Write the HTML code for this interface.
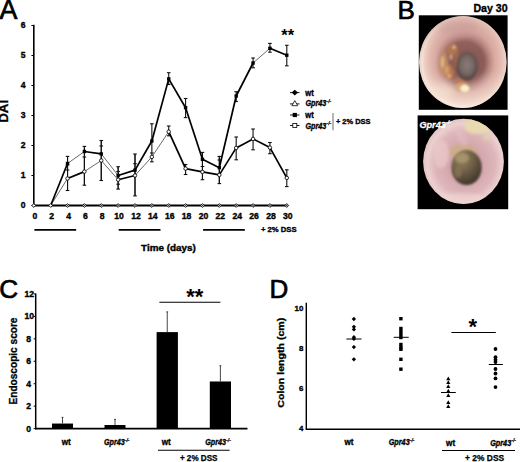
<!DOCTYPE html>
<html><head><meta charset="utf-8"><style>
html,body{margin:0;padding:0;background:#fff;width:520px;height:462px;overflow:hidden}
svg{display:block}
</style></head><body>
<svg width="520" height="462" viewBox="0 0 520 462">
<rect width="520" height="462" fill="#fff"/>
<defs>
 <radialGradient id="g1" cx="465" cy="62" r="45" gradientUnits="userSpaceOnUse" gradientTransform="translate(465 62) scale(0.974 1.022) translate(-465 -62)">
  <stop offset="0" stop-color="#7e524e"/>
  <stop offset="0.44" stop-color="#8c5c58"/>
  <stop offset="0.57" stop-color="#bc8a84"/>
  <stop offset="0.68" stop-color="#d8aaa2"/>
  <stop offset="0.82" stop-color="#e4bcb2"/>
  <stop offset="0.93" stop-color="#eed0c6"/>
  <stop offset="0.985" stop-color="#f6e4da"/>
  <stop offset="1" stop-color="#eed8ce"/>
 </radialGradient>
 <linearGradient id="ov1" x1="0" y1="0" x2="0" y2="1">
  <stop offset="0" stop-color="#c08880" stop-opacity="0.35"/>
  <stop offset="0.45" stop-color="#c08880" stop-opacity="0"/>
  <stop offset="0.6" stop-color="#fff4e6" stop-opacity="0"/>
  <stop offset="1" stop-color="#fff4e6" stop-opacity="0.45"/>
 </linearGradient>
 <radialGradient id="g2" cx="465" cy="163" r="42" gradientUnits="userSpaceOnUse" gradientTransform="translate(465 163) scale(0.962 1.015) translate(-465 -163)">
  <stop offset="0" stop-color="#c49aa0"/>
  <stop offset="0.45" stop-color="#d4a8ae"/>
  <stop offset="0.75" stop-color="#deb6ba"/>
  <stop offset="0.93" stop-color="#ecd0d0"/>
  <stop offset="1" stop-color="#e6c8c6"/>
 </radialGradient>
 <radialGradient id="lum1" cx="0.5" cy="0.45" r="0.55">
  <stop offset="0" stop-color="#8a7c78"/>
  <stop offset="0.6" stop-color="#746662"/>
  <stop offset="1" stop-color="#503c3a"/>
 </radialGradient>
 <radialGradient id="lum2" cx="0.35" cy="0.25" r="0.8">
  <stop offset="0" stop-color="#9c8a68"/>
  <stop offset="0.35" stop-color="#7a6a4e"/>
  <stop offset="0.7" stop-color="#5a4c3a"/>
  <stop offset="1" stop-color="#3c3228"/>
 </radialGradient>
 <filter id="bl3" x="-50%" y="-50%" width="200%" height="200%"><feGaussianBlur stdDeviation="3"/></filter>
 <filter id="bl" x="-50%" y="-50%" width="200%" height="200%"><feGaussianBlur stdDeviation="1.5"/></filter>
 <filter id="bl1" x="-50%" y="-50%" width="200%" height="200%"><feGaussianBlur stdDeviation="0.8"/></filter>
 <clipPath id="c1"><ellipse cx="462.85" cy="62.05" rx="43.85" ry="46.05"/></clipPath>
 <clipPath id="c2"><ellipse cx="463.5" cy="161.45" rx="40.4" ry="42.65"/></clipPath>
</defs>
<rect x="418.8" y="15.3" width="88.8" height="94.5" fill="#000"/>
<ellipse cx="462.85" cy="62.05" rx="43.85" ry="46.05" fill="url(#g1)"/>
<ellipse cx="462.85" cy="62.05" rx="43.85" ry="46.05" fill="url(#ov1)"/>
<g clip-path="url(#c1)">
<g filter="url(#bl3)">
 <ellipse cx="458" cy="28" rx="20" ry="8" fill="#c89c9a" opacity="0.5"/>
 <ellipse cx="440" cy="92" rx="14" ry="8" fill="#f4e2d0" opacity="0.6"/>
 
</g>
<g filter="url(#bl)">
 <ellipse cx="444" cy="64" rx="4.5" ry="12" fill="#c89060" opacity="0.85"/>
 <ellipse cx="450" cy="72" rx="4" ry="7" fill="#c08050" opacity="0.85"/>
 <ellipse cx="452" cy="50" rx="6" ry="5" fill="#b87c52" opacity="0.8"/>
 <ellipse cx="456.5" cy="60" rx="3" ry="8" fill="#a86c50" opacity="0.7"/>
 <ellipse cx="460" cy="81" rx="7" ry="3" fill="#c07c58" opacity="0.7"/>
</g>
<g filter="url(#bl1)">
 <ellipse cx="442.5" cy="62" rx="1.8" ry="6" fill="#e8c090" opacity="0.75"/>
 <ellipse cx="447" cy="70" rx="1.6" ry="4" fill="#e0b080" opacity="0.7"/>
 <ellipse cx="451" cy="57" rx="1.5" ry="3" fill="#e8c498" opacity="0.7"/>
 <ellipse cx="454" cy="47" rx="2" ry="2" fill="#e6c08c" opacity="0.8"/>
 <ellipse cx="449" cy="76" rx="2" ry="2.5" fill="#e8b070" opacity="0.8"/>
 <ellipse cx="453.5" cy="66" rx="1.5" ry="4" fill="#8c5a44" opacity="0.6"/>
</g>
<g filter="url(#bl1)">
 <ellipse cx="467" cy="66.5" rx="10.5" ry="14" fill="url(#lum1)"/>
 <ellipse cx="462" cy="87" rx="7" ry="4.5" fill="#dca872" opacity="0.8"/>
 <ellipse cx="464.8" cy="88.5" rx="4.6" ry="3.7" fill="#faf0c8"/>
</g>
</g>
<rect x="417.6" y="115.4" width="90.6" height="93.8" fill="#000"/>
<ellipse cx="463.5" cy="161.45" rx="40.4" ry="42.65" fill="url(#g2)"/>
<g clip-path="url(#c2)">
<g filter="url(#bl)">
 <ellipse cx="477" cy="126" rx="13" ry="8" fill="#e8dab0" opacity="0.95"/>
 <ellipse cx="487" cy="137" rx="4" ry="4" fill="#e0d0b0" opacity="0.8"/>
 <ellipse cx="441" cy="154" rx="8" ry="14" fill="#eccaca" opacity="0.7"/>
 <ellipse cx="460" cy="199" rx="26" ry="6" fill="#f0d6d4" opacity="0.6"/>
 <ellipse cx="462" cy="138" rx="4" ry="12" fill="#e6c0c4" opacity="0.5" transform="rotate(-25 462 138)"/>
 <ellipse cx="463" cy="152" rx="14" ry="7" fill="#ccae84" opacity="0.85"/>
</g>
<g filter="url(#bl1)">
 <ellipse cx="466.5" cy="167.5" rx="15.2" ry="17.6" fill="url(#lum2)"/>
</g>
<g filter="url(#bl1)" opacity="0.7">
 <ellipse cx="462" cy="158" rx="7" ry="5" fill="#b09a70"/>
 <ellipse cx="458" cy="172" rx="4" ry="6" fill="#8a7452"/>
</g>
</g>

<text x="-0.40" y="18.60" font-size="26.8" font-family="Liberation Sans, sans-serif" fill="#000" stroke="#000" stroke-width="0.7" >A</text>
<line x1="33.8" y1="24.8" x2="33.8" y2="206.3" stroke="#000" stroke-width="1.6"/>
<line x1="31.4" y1="205.50" x2="33.8" y2="205.50" stroke="#000" stroke-width="1"/>
<text x="25.60" y="208.10" font-size="8.6" font-family="Liberation Sans, sans-serif" fill="#000" font-weight="bold" text-anchor="end" stroke="#000" stroke-width="0.36" >0</text>
<line x1="31.4" y1="175.50" x2="33.8" y2="175.50" stroke="#000" stroke-width="1"/>
<text x="25.60" y="178.10" font-size="8.6" font-family="Liberation Sans, sans-serif" fill="#000" font-weight="bold" text-anchor="end" stroke="#000" stroke-width="0.36" >1</text>
<line x1="31.4" y1="145.50" x2="33.8" y2="145.50" stroke="#000" stroke-width="1"/>
<text x="25.60" y="148.10" font-size="8.6" font-family="Liberation Sans, sans-serif" fill="#000" font-weight="bold" text-anchor="end" stroke="#000" stroke-width="0.36" >2</text>
<line x1="31.4" y1="115.50" x2="33.8" y2="115.50" stroke="#000" stroke-width="1"/>
<text x="25.60" y="118.10" font-size="8.6" font-family="Liberation Sans, sans-serif" fill="#000" font-weight="bold" text-anchor="end" stroke="#000" stroke-width="0.36" >3</text>
<line x1="31.4" y1="85.50" x2="33.8" y2="85.50" stroke="#000" stroke-width="1"/>
<text x="25.60" y="88.10" font-size="8.6" font-family="Liberation Sans, sans-serif" fill="#000" font-weight="bold" text-anchor="end" stroke="#000" stroke-width="0.36" >4</text>
<line x1="31.4" y1="55.50" x2="33.8" y2="55.50" stroke="#000" stroke-width="1"/>
<text x="25.60" y="58.10" font-size="8.6" font-family="Liberation Sans, sans-serif" fill="#000" font-weight="bold" text-anchor="end" stroke="#000" stroke-width="0.36" >5</text>
<line x1="31.4" y1="25.50" x2="33.8" y2="25.50" stroke="#000" stroke-width="1"/>
<text x="25.60" y="28.10" font-size="8.6" font-family="Liberation Sans, sans-serif" fill="#000" font-weight="bold" text-anchor="end" stroke="#000" stroke-width="0.36" >6</text>
<text transform="translate(8.2,111.3) rotate(-90)" font-size="13.4" font-weight="bold" text-anchor="middle" stroke="#000" stroke-width="0.3" font-family="Liberation Sans, sans-serif">DAI</text>
<line x1="33" y1="205.5" x2="287.79" y2="205.5" stroke="#000" stroke-width="1.8"/>
<text x="34.80" y="219.00" font-size="8.6" font-family="Liberation Sans, sans-serif" fill="#000" font-weight="bold" text-anchor="middle" stroke="#000" stroke-width="0.36" >0</text>
<text x="51.67" y="219.00" font-size="8.6" font-family="Liberation Sans, sans-serif" fill="#000" font-weight="bold" text-anchor="middle" stroke="#000" stroke-width="0.36" >2</text>
<text x="68.53" y="219.00" font-size="8.6" font-family="Liberation Sans, sans-serif" fill="#000" font-weight="bold" text-anchor="middle" stroke="#000" stroke-width="0.36" >4</text>
<text x="85.40" y="219.00" font-size="8.6" font-family="Liberation Sans, sans-serif" fill="#000" font-weight="bold" text-anchor="middle" stroke="#000" stroke-width="0.36" >6</text>
<text x="102.26" y="219.00" font-size="8.6" font-family="Liberation Sans, sans-serif" fill="#000" font-weight="bold" text-anchor="middle" stroke="#000" stroke-width="0.36" >8</text>
<text x="119.13" y="219.00" font-size="8.6" font-family="Liberation Sans, sans-serif" fill="#000" font-weight="bold" text-anchor="middle" stroke="#000" stroke-width="0.36" >10</text>
<text x="136.00" y="219.00" font-size="8.6" font-family="Liberation Sans, sans-serif" fill="#000" font-weight="bold" text-anchor="middle" stroke="#000" stroke-width="0.36" >12</text>
<text x="152.86" y="219.00" font-size="8.6" font-family="Liberation Sans, sans-serif" fill="#000" font-weight="bold" text-anchor="middle" stroke="#000" stroke-width="0.36" >14</text>
<text x="169.73" y="219.00" font-size="8.6" font-family="Liberation Sans, sans-serif" fill="#000" font-weight="bold" text-anchor="middle" stroke="#000" stroke-width="0.36" >16</text>
<text x="186.59" y="219.00" font-size="8.6" font-family="Liberation Sans, sans-serif" fill="#000" font-weight="bold" text-anchor="middle" stroke="#000" stroke-width="0.36" >18</text>
<text x="203.46" y="219.00" font-size="8.6" font-family="Liberation Sans, sans-serif" fill="#000" font-weight="bold" text-anchor="middle" stroke="#000" stroke-width="0.36" >20</text>
<text x="220.33" y="219.00" font-size="8.6" font-family="Liberation Sans, sans-serif" fill="#000" font-weight="bold" text-anchor="middle" stroke="#000" stroke-width="0.36" >22</text>
<text x="237.19" y="219.00" font-size="8.6" font-family="Liberation Sans, sans-serif" fill="#000" font-weight="bold" text-anchor="middle" stroke="#000" stroke-width="0.36" >24</text>
<text x="254.06" y="219.00" font-size="8.6" font-family="Liberation Sans, sans-serif" fill="#000" font-weight="bold" text-anchor="middle" stroke="#000" stroke-width="0.36" >26</text>
<text x="270.92" y="219.00" font-size="8.6" font-family="Liberation Sans, sans-serif" fill="#000" font-weight="bold" text-anchor="middle" stroke="#000" stroke-width="0.36" >28</text>
<text x="287.79" y="219.00" font-size="8.6" font-family="Liberation Sans, sans-serif" fill="#000" font-weight="bold" text-anchor="middle" stroke="#000" stroke-width="0.36" >30</text>
<line x1="34.40" y1="229.9" x2="76.17" y2="229.9" stroke="#000" stroke-width="1.7"/>
<line x1="118.73" y1="229.9" x2="160.50" y2="229.9" stroke="#000" stroke-width="1.7"/>
<line x1="203.06" y1="229.9" x2="244.82" y2="229.9" stroke="#000" stroke-width="1.7"/>
<text x="260.90" y="232.30" font-size="7.7" font-family="Liberation Sans, sans-serif" fill="#000" font-weight="bold" stroke="#000" stroke-width="0.36" >+ 2% DSS</text>
<text x="168.40" y="250.60" font-size="9.9" font-family="Liberation Sans, sans-serif" fill="#000" font-weight="bold" text-anchor="middle" stroke="#000" stroke-width="0.4" >Time (days)</text>
<text x="281.30" y="41.30" font-size="16.5" font-family="Liberation Sans, sans-serif" fill="#000" font-weight="bold" >**</text>
<line x1="67.53" y1="156.4" x2="67.53" y2="190.5" stroke="#111" stroke-width="1.1"/>
<line x1="67.53" y1="156.4" x2="67.53" y2="190.5" stroke="#111" stroke-width="1.1"/>
<line x1="65.73" y1="156.4" x2="69.33" y2="156.4" stroke="#111" stroke-width="1.1"/>
<line x1="65.73" y1="170" x2="69.33" y2="170" stroke="#111" stroke-width="1.1"/>
<line x1="65.73" y1="165" x2="69.33" y2="165" stroke="#111" stroke-width="1.1"/>
<line x1="65.73" y1="190.5" x2="69.33" y2="190.5" stroke="#111" stroke-width="1.1"/>
<line x1="84.40" y1="146.4" x2="84.40" y2="185.2" stroke="#111" stroke-width="1.1"/>
<line x1="84.40" y1="146.4" x2="84.40" y2="185.2" stroke="#111" stroke-width="1.1"/>
<line x1="82.60" y1="146.4" x2="86.20" y2="146.4" stroke="#111" stroke-width="1.1"/>
<line x1="82.60" y1="157" x2="86.20" y2="157" stroke="#111" stroke-width="1.1"/>
<line x1="82.60" y1="185.2" x2="86.20" y2="185.2" stroke="#111" stroke-width="1.1"/>
<line x1="101.26" y1="140.5" x2="101.26" y2="180.5" stroke="#111" stroke-width="1.1"/>
<line x1="101.26" y1="140.5" x2="101.26" y2="180.5" stroke="#111" stroke-width="1.1"/>
<line x1="99.46" y1="140.5" x2="103.06" y2="140.5" stroke="#111" stroke-width="1.1"/>
<line x1="99.46" y1="146" x2="103.06" y2="146" stroke="#111" stroke-width="1.1"/>
<line x1="99.46" y1="180.5" x2="103.06" y2="180.5" stroke="#111" stroke-width="1.1"/>
<line x1="118.13" y1="166.7" x2="118.13" y2="189.1" stroke="#111" stroke-width="1.1"/>
<line x1="118.13" y1="166.7" x2="118.13" y2="189.1" stroke="#111" stroke-width="1.1"/>
<line x1="116.33" y1="166.7" x2="119.93" y2="166.7" stroke="#111" stroke-width="1.1"/>
<line x1="116.33" y1="171.5" x2="119.93" y2="171.5" stroke="#111" stroke-width="1.1"/>
<line x1="116.33" y1="184.2" x2="119.93" y2="184.2" stroke="#111" stroke-width="1.1"/>
<line x1="116.33" y1="189.1" x2="119.93" y2="189.1" stroke="#111" stroke-width="1.1"/>
<line x1="135.00" y1="154.0" x2="135.00" y2="195.9" stroke="#111" stroke-width="1.1"/>
<line x1="135.00" y1="154.0" x2="135.00" y2="195.9" stroke="#111" stroke-width="1.1"/>
<line x1="133.20" y1="154.0" x2="136.80" y2="154.0" stroke="#111" stroke-width="1.1"/>
<line x1="133.20" y1="163.7" x2="136.80" y2="163.7" stroke="#111" stroke-width="1.1"/>
<line x1="133.20" y1="195.9" x2="136.80" y2="195.9" stroke="#111" stroke-width="1.1"/>
<line x1="151.86" y1="123.8" x2="151.86" y2="153" stroke="#111" stroke-width="1.1"/>
<line x1="151.86" y1="153" x2="151.86" y2="161.8" stroke="#111" stroke-width="1.1"/>
<line x1="150.06" y1="123.8" x2="153.66" y2="123.8" stroke="#111" stroke-width="1.1"/>
<line x1="150.06" y1="153" x2="153.66" y2="153" stroke="#111" stroke-width="1.1"/>
<line x1="150.06" y1="161.8" x2="153.66" y2="161.8" stroke="#111" stroke-width="1.1"/>
<line x1="168.73" y1="72.7" x2="168.73" y2="84.5" stroke="#111" stroke-width="1.1"/>
<line x1="168.73" y1="126" x2="168.73" y2="135.8" stroke="#111" stroke-width="1.1"/>
<line x1="166.93" y1="72.7" x2="170.53" y2="72.7" stroke="#111" stroke-width="1.1"/>
<line x1="166.93" y1="84.5" x2="170.53" y2="84.5" stroke="#111" stroke-width="1.1"/>
<line x1="166.93" y1="126" x2="170.53" y2="126" stroke="#111" stroke-width="1.1"/>
<line x1="166.93" y1="135.8" x2="170.53" y2="135.8" stroke="#111" stroke-width="1.1"/>
<line x1="185.59" y1="98.5" x2="185.59" y2="117.6" stroke="#111" stroke-width="1.1"/>
<line x1="185.59" y1="164.5" x2="185.59" y2="174.5" stroke="#111" stroke-width="1.1"/>
<line x1="183.79" y1="98.5" x2="187.39" y2="98.5" stroke="#111" stroke-width="1.1"/>
<line x1="183.79" y1="117.6" x2="187.39" y2="117.6" stroke="#111" stroke-width="1.1"/>
<line x1="183.79" y1="164.5" x2="187.39" y2="164.5" stroke="#111" stroke-width="1.1"/>
<line x1="183.79" y1="174.5" x2="187.39" y2="174.5" stroke="#111" stroke-width="1.1"/>
<line x1="202.46" y1="152.4" x2="202.46" y2="179.7" stroke="#111" stroke-width="1.1"/>
<line x1="202.46" y1="152.4" x2="202.46" y2="179.7" stroke="#111" stroke-width="1.1"/>
<line x1="200.66" y1="152.4" x2="204.26" y2="152.4" stroke="#111" stroke-width="1.1"/>
<line x1="200.66" y1="166.5" x2="204.26" y2="166.5" stroke="#111" stroke-width="1.1"/>
<line x1="200.66" y1="179.7" x2="204.26" y2="179.7" stroke="#111" stroke-width="1.1"/>
<line x1="219.33" y1="156.4" x2="219.33" y2="183.6" stroke="#111" stroke-width="1.1"/>
<line x1="219.33" y1="156.4" x2="219.33" y2="183.6" stroke="#111" stroke-width="1.1"/>
<line x1="217.53" y1="156.4" x2="221.13" y2="156.4" stroke="#111" stroke-width="1.1"/>
<line x1="217.53" y1="160" x2="221.13" y2="160" stroke="#111" stroke-width="1.1"/>
<line x1="217.53" y1="183.6" x2="221.13" y2="183.6" stroke="#111" stroke-width="1.1"/>
<line x1="236.19" y1="91.7" x2="236.19" y2="101.5" stroke="#111" stroke-width="1.1"/>
<line x1="236.19" y1="137" x2="236.19" y2="159.8" stroke="#111" stroke-width="1.1"/>
<line x1="234.39" y1="91.7" x2="237.99" y2="91.7" stroke="#111" stroke-width="1.1"/>
<line x1="234.39" y1="101.5" x2="237.99" y2="101.5" stroke="#111" stroke-width="1.1"/>
<line x1="234.39" y1="137" x2="237.99" y2="137" stroke="#111" stroke-width="1.1"/>
<line x1="234.39" y1="159.8" x2="237.99" y2="159.8" stroke="#111" stroke-width="1.1"/>
<line x1="253.06" y1="58.0" x2="253.06" y2="67.8" stroke="#111" stroke-width="1.1"/>
<line x1="253.06" y1="129" x2="253.06" y2="149.8" stroke="#111" stroke-width="1.1"/>
<line x1="251.26" y1="58.0" x2="254.86" y2="58.0" stroke="#111" stroke-width="1.1"/>
<line x1="251.26" y1="67.8" x2="254.86" y2="67.8" stroke="#111" stroke-width="1.1"/>
<line x1="251.26" y1="129" x2="254.86" y2="129" stroke="#111" stroke-width="1.1"/>
<line x1="251.26" y1="149.8" x2="254.86" y2="149.8" stroke="#111" stroke-width="1.1"/>
<line x1="269.92" y1="43.4" x2="269.92" y2="52.2" stroke="#111" stroke-width="1.1"/>
<line x1="269.92" y1="142.5" x2="269.92" y2="153.7" stroke="#111" stroke-width="1.1"/>
<line x1="268.12" y1="43.4" x2="271.72" y2="43.4" stroke="#111" stroke-width="1.1"/>
<line x1="268.12" y1="52.2" x2="271.72" y2="52.2" stroke="#111" stroke-width="1.1"/>
<line x1="268.12" y1="142.5" x2="271.72" y2="142.5" stroke="#111" stroke-width="1.1"/>
<line x1="268.12" y1="153.7" x2="271.72" y2="153.7" stroke="#111" stroke-width="1.1"/>
<line x1="286.79" y1="45.3" x2="286.79" y2="65.8" stroke="#111" stroke-width="1.1"/>
<line x1="286.79" y1="169.8" x2="286.79" y2="186.6" stroke="#111" stroke-width="1.1"/>
<line x1="284.99" y1="45.3" x2="288.59" y2="45.3" stroke="#111" stroke-width="1.1"/>
<line x1="284.99" y1="65.8" x2="288.59" y2="65.8" stroke="#111" stroke-width="1.1"/>
<line x1="284.99" y1="169.8" x2="288.59" y2="169.8" stroke="#111" stroke-width="1.1"/>
<line x1="284.99" y1="186.6" x2="288.59" y2="186.6" stroke="#111" stroke-width="1.1"/>
<line x1="50.67" y1="205.50" x2="67.53" y2="178.50" stroke="#444" stroke-width="0.8"/>
<line x1="50.67" y1="205.50" x2="67.53" y2="163.50" stroke="#000" stroke-width="1.7"/>
<line x1="67.53" y1="178.50" x2="84.40" y2="171.60" stroke="#000" stroke-width="1.7"/>
<line x1="67.53" y1="163.50" x2="84.40" y2="151.50" stroke="#444" stroke-width="0.8"/>
<line x1="84.40" y1="171.60" x2="101.26" y2="160.50" stroke="#444" stroke-width="0.8"/>
<line x1="84.40" y1="151.50" x2="101.26" y2="153.90" stroke="#000" stroke-width="1.7"/>
<line x1="101.26" y1="160.50" x2="118.13" y2="179.70" stroke="#444" stroke-width="0.8"/>
<line x1="101.26" y1="153.90" x2="118.13" y2="175.50" stroke="#444" stroke-width="0.8"/>
<line x1="118.13" y1="179.70" x2="135.00" y2="175.50" stroke="#000" stroke-width="1.7"/>
<line x1="118.13" y1="175.50" x2="135.00" y2="170.10" stroke="#000" stroke-width="1.7"/>
<line x1="135.00" y1="175.50" x2="151.86" y2="156.90" stroke="#444" stroke-width="0.8"/>
<line x1="135.00" y1="170.10" x2="151.86" y2="141.00" stroke="#000" stroke-width="1.7"/>
<line x1="151.86" y1="156.90" x2="168.73" y2="131.70" stroke="#444" stroke-width="0.8"/>
<line x1="151.86" y1="141.00" x2="168.73" y2="78.90" stroke="#000" stroke-width="1.7"/>
<line x1="168.73" y1="131.70" x2="185.59" y2="168.60" stroke="#000" stroke-width="1.7"/>
<line x1="168.73" y1="78.90" x2="185.59" y2="107.70" stroke="#000" stroke-width="1.7"/>
<line x1="185.59" y1="168.60" x2="202.46" y2="171.90" stroke="#000" stroke-width="1.7"/>
<line x1="185.59" y1="107.70" x2="202.46" y2="159.30" stroke="#000" stroke-width="1.7"/>
<line x1="202.46" y1="171.90" x2="219.33" y2="174.90" stroke="#000" stroke-width="1.7"/>
<line x1="202.46" y1="159.30" x2="219.33" y2="167.70" stroke="#000" stroke-width="1.7"/>
<line x1="219.33" y1="174.90" x2="236.19" y2="147.90" stroke="#000" stroke-width="1.7"/>
<line x1="219.33" y1="167.70" x2="236.19" y2="96.00" stroke="#000" stroke-width="1.7"/>
<line x1="236.19" y1="147.90" x2="253.06" y2="138.90" stroke="#000" stroke-width="1.7"/>
<line x1="236.19" y1="96.00" x2="253.06" y2="63.00" stroke="#000" stroke-width="1.7"/>
<line x1="253.06" y1="138.90" x2="269.92" y2="147.60" stroke="#000" stroke-width="1.7"/>
<line x1="253.06" y1="63.00" x2="269.92" y2="48.30" stroke="#444" stroke-width="0.8"/>
<line x1="269.92" y1="147.60" x2="286.79" y2="177.90" stroke="#000" stroke-width="1.7"/>
<line x1="269.92" y1="48.30" x2="286.79" y2="55.20" stroke="#000" stroke-width="1.7"/>
<path d="M31.90,205.5 L33.80,203.6 L35.70,205.5 L33.80,207.4 Z" fill="#fff" stroke="#000" stroke-width="0.9"/>
<path d="M48.77,205.5 L50.67,203.6 L52.57,205.5 L50.67,207.4 Z" fill="#fff" stroke="#000" stroke-width="0.9"/>
<path d="M65.63,205.5 L67.53,203.6 L69.43,205.5 L67.53,207.4 Z" fill="#fff" stroke="#000" stroke-width="0.9"/>
<circle cx="67.53" cy="205.5" r="0.8" fill="#333"/>
<path d="M82.50,205.5 L84.40,203.6 L86.30,205.5 L84.40,207.4 Z" fill="#fff" stroke="#000" stroke-width="0.9"/>
<circle cx="84.40" cy="205.5" r="0.8" fill="#333"/>
<path d="M99.36,205.5 L101.26,203.6 L103.16,205.5 L101.26,207.4 Z" fill="#fff" stroke="#000" stroke-width="0.9"/>
<circle cx="101.26" cy="205.5" r="0.8" fill="#333"/>
<path d="M116.23,205.5 L118.13,203.6 L120.03,205.5 L118.13,207.4 Z" fill="#fff" stroke="#000" stroke-width="0.9"/>
<circle cx="118.13" cy="205.5" r="0.8" fill="#333"/>
<path d="M133.10,205.5 L135.00,203.6 L136.90,205.5 L135.00,207.4 Z" fill="#fff" stroke="#000" stroke-width="0.9"/>
<circle cx="135.00" cy="205.5" r="0.8" fill="#333"/>
<path d="M149.96,205.5 L151.86,203.6 L153.76,205.5 L151.86,207.4 Z" fill="#fff" stroke="#000" stroke-width="0.9"/>
<circle cx="151.86" cy="205.5" r="0.8" fill="#333"/>
<path d="M166.83,205.5 L168.73,203.6 L170.63,205.5 L168.73,207.4 Z" fill="#fff" stroke="#000" stroke-width="0.9"/>
<circle cx="168.73" cy="205.5" r="0.8" fill="#333"/>
<path d="M183.69,205.5 L185.59,203.6 L187.49,205.5 L185.59,207.4 Z" fill="#fff" stroke="#000" stroke-width="0.9"/>
<circle cx="185.59" cy="205.5" r="0.8" fill="#333"/>
<path d="M200.56,205.5 L202.46,203.6 L204.36,205.5 L202.46,207.4 Z" fill="#fff" stroke="#000" stroke-width="0.9"/>
<circle cx="202.46" cy="205.5" r="0.8" fill="#333"/>
<path d="M217.43,205.5 L219.33,203.6 L221.23,205.5 L219.33,207.4 Z" fill="#fff" stroke="#000" stroke-width="0.9"/>
<circle cx="219.33" cy="205.5" r="0.8" fill="#333"/>
<path d="M234.29,205.5 L236.19,203.6 L238.09,205.5 L236.19,207.4 Z" fill="#fff" stroke="#000" stroke-width="0.9"/>
<circle cx="236.19" cy="205.5" r="0.8" fill="#333"/>
<path d="M251.16,205.5 L253.06,203.6 L254.96,205.5 L253.06,207.4 Z" fill="#fff" stroke="#000" stroke-width="0.9"/>
<circle cx="253.06" cy="205.5" r="0.8" fill="#333"/>
<path d="M268.02,205.5 L269.92,203.6 L271.82,205.5 L269.92,207.4 Z" fill="#fff" stroke="#000" stroke-width="0.9"/>
<circle cx="269.92" cy="205.5" r="0.8" fill="#333"/>
<path d="M284.89,205.5 L286.79,203.6 L288.69,205.5 L286.79,207.4 Z" fill="#fff" stroke="#000" stroke-width="0.9"/>
<circle cx="286.79" cy="205.5" r="0.8" fill="#333"/>
<circle cx="67.53" cy="178.50" r="1.75" fill="#fff" stroke="#000" stroke-width="0.85"/>
<rect x="65.83" y="161.80" width="3.4" height="3.4" fill="#000"/>
<circle cx="84.40" cy="171.60" r="1.75" fill="#fff" stroke="#000" stroke-width="0.85"/>
<rect x="82.70" y="149.80" width="3.4" height="3.4" fill="#000"/>
<circle cx="101.26" cy="160.50" r="1.75" fill="#fff" stroke="#000" stroke-width="0.85"/>
<rect x="99.56" y="152.20" width="3.4" height="3.4" fill="#000"/>
<circle cx="118.13" cy="179.70" r="1.75" fill="#fff" stroke="#000" stroke-width="0.85"/>
<rect x="116.43" y="173.80" width="3.4" height="3.4" fill="#000"/>
<circle cx="135.00" cy="175.50" r="1.75" fill="#fff" stroke="#000" stroke-width="0.85"/>
<rect x="133.30" y="168.40" width="3.4" height="3.4" fill="#000"/>
<circle cx="151.86" cy="156.90" r="1.75" fill="#fff" stroke="#000" stroke-width="0.85"/>
<rect x="150.16" y="139.30" width="3.4" height="3.4" fill="#000"/>
<circle cx="168.73" cy="131.70" r="1.75" fill="#fff" stroke="#000" stroke-width="0.85"/>
<rect x="167.03" y="77.20" width="3.4" height="3.4" fill="#000"/>
<circle cx="185.59" cy="168.60" r="1.75" fill="#fff" stroke="#000" stroke-width="0.85"/>
<rect x="183.89" y="106.00" width="3.4" height="3.4" fill="#000"/>
<circle cx="202.46" cy="171.90" r="1.75" fill="#fff" stroke="#000" stroke-width="0.85"/>
<rect x="200.76" y="157.60" width="3.4" height="3.4" fill="#000"/>
<circle cx="219.33" cy="174.90" r="1.75" fill="#fff" stroke="#000" stroke-width="0.85"/>
<rect x="217.63" y="166.00" width="3.4" height="3.4" fill="#000"/>
<circle cx="236.19" cy="147.90" r="1.75" fill="#fff" stroke="#000" stroke-width="0.85"/>
<rect x="234.49" y="94.30" width="3.4" height="3.4" fill="#000"/>
<circle cx="253.06" cy="138.90" r="1.75" fill="#fff" stroke="#000" stroke-width="0.85"/>
<rect x="251.36" y="61.30" width="3.4" height="3.4" fill="#000"/>
<circle cx="269.92" cy="147.60" r="1.75" fill="#fff" stroke="#000" stroke-width="0.85"/>
<rect x="268.22" y="46.60" width="3.4" height="3.4" fill="#000"/>
<circle cx="286.79" cy="177.90" r="1.75" fill="#fff" stroke="#000" stroke-width="0.85"/>
<rect x="285.09" y="53.50" width="3.4" height="3.4" fill="#000"/>
<line x1="290" y1="92.6" x2="299.5" y2="92.6" stroke="#000" stroke-width="0.9"/>
<path d="M291.6,92.6 L294.8,89.7 L298,92.6 L294.8,95.5 Z" fill="#000"/>
<line x1="290" y1="103.9" x2="299.5" y2="103.9" stroke="#000" stroke-width="0.9"/>
<path d="M291.9,105.7 L294.8,100.6 L297.7,105.7 Z" fill="#fff" stroke="#000" stroke-width="0.8"/>
<line x1="290" y1="115" x2="299.5" y2="115" stroke="#000" stroke-width="0.9"/>
<rect x="292.7" y="112.9" width="4.2" height="4.2" fill="#000"/>
<line x1="290" y1="125.5" x2="299.5" y2="125.5" stroke="#000" stroke-width="0.9"/>
<rect x="292.8" y="123.5" width="4" height="4" fill="#fff" stroke="#000" stroke-width="0.8"/>
<text x="305.30" y="95.60" font-size="8.4" font-family="Liberation Sans, sans-serif" fill="#000" font-weight="bold" stroke="#000" stroke-width="0.36" textLength="8.4" lengthAdjust="spacingAndGlyphs" >wt</text>
<text x="305.40" y="106.20" font-size="8.6" font-family="Liberation Sans, sans-serif" font-weight="bold" font-style="italic" fill="#000" stroke="#000" stroke-width="0.36"><tspan textLength="21.0" lengthAdjust="spacingAndGlyphs">Gpr43</tspan><tspan dx="0.2" dy="-3.44" font-size="4.82" stroke-width="0.25">-/-</tspan></text>
<text x="305.30" y="118.40" font-size="8.4" font-family="Liberation Sans, sans-serif" fill="#000" font-weight="bold" stroke="#000" stroke-width="0.36" textLength="8.4" lengthAdjust="spacingAndGlyphs" >wt</text>
<text x="305.40" y="128.70" font-size="8.6" font-family="Liberation Sans, sans-serif" font-weight="bold" font-style="italic" fill="#000" stroke="#000" stroke-width="0.36"><tspan textLength="21.0" lengthAdjust="spacingAndGlyphs">Gpr43</tspan><tspan dx="0.2" dy="-3.44" font-size="4.82" stroke-width="0.25">-/-</tspan></text>
<line x1="333" y1="112.9" x2="333" y2="130.2" stroke="#777" stroke-width="1.1"/>
<text x="335.90" y="124.40" font-size="7.8" font-family="Liberation Sans, sans-serif" fill="#000" font-weight="bold" stroke="#000" stroke-width="0.36" textLength="34.6" lengthAdjust="spacingAndGlyphs" >+ 2% DSS</text>
<text x="397.40" y="18.50" font-size="26" font-family="Liberation Sans, sans-serif" fill="#000" stroke="#000" stroke-width="0.7" >B</text>
<text x="507.60" y="12.00" font-size="11" font-family="Liberation Sans, sans-serif" fill="#000" font-weight="bold" text-anchor="end" stroke="#000" stroke-width="0.35" textLength="34.2" lengthAdjust="spacingAndGlyphs" >Day 30</text>
<text x="-0.80" y="298.30" font-size="26.2" font-family="Liberation Sans, sans-serif" fill="#000" stroke="#000" stroke-width="0.7" >C</text>
<line x1="35.7" y1="293.5" x2="35.7" y2="429.40000000000003" stroke="#000" stroke-width="1.5"/>
<line x1="33.6" y1="428.60" x2="35.7" y2="428.60" stroke="#000" stroke-width="1"/>
<text x="28.60" y="431.50" font-size="8.6" font-family="Liberation Sans, sans-serif" fill="#000" font-weight="bold" text-anchor="middle" stroke="#000" stroke-width="0.36" >0</text>
<line x1="33.6" y1="406.16" x2="35.7" y2="406.16" stroke="#000" stroke-width="1"/>
<text x="28.60" y="409.06" font-size="8.6" font-family="Liberation Sans, sans-serif" fill="#000" font-weight="bold" text-anchor="middle" stroke="#000" stroke-width="0.36" >2</text>
<line x1="33.6" y1="383.72" x2="35.7" y2="383.72" stroke="#000" stroke-width="1"/>
<text x="28.60" y="386.62" font-size="8.6" font-family="Liberation Sans, sans-serif" fill="#000" font-weight="bold" text-anchor="middle" stroke="#000" stroke-width="0.36" >4</text>
<line x1="33.6" y1="361.28" x2="35.7" y2="361.28" stroke="#000" stroke-width="1"/>
<text x="28.60" y="364.18" font-size="8.6" font-family="Liberation Sans, sans-serif" fill="#000" font-weight="bold" text-anchor="middle" stroke="#000" stroke-width="0.36" >6</text>
<line x1="33.6" y1="338.84" x2="35.7" y2="338.84" stroke="#000" stroke-width="1"/>
<text x="28.60" y="341.74" font-size="8.6" font-family="Liberation Sans, sans-serif" fill="#000" font-weight="bold" text-anchor="middle" stroke="#000" stroke-width="0.36" >8</text>
<line x1="33.6" y1="316.40" x2="35.7" y2="316.40" stroke="#000" stroke-width="1"/>
<text x="29.20" y="319.30" font-size="8.6" font-family="Liberation Sans, sans-serif" fill="#000" font-weight="bold" text-anchor="middle" stroke="#000" stroke-width="0.36" >10</text>
<line x1="33.6" y1="293.96" x2="35.7" y2="293.96" stroke="#000" stroke-width="1"/>
<text x="29.20" y="296.86" font-size="8.6" font-family="Liberation Sans, sans-serif" fill="#000" font-weight="bold" text-anchor="middle" stroke="#000" stroke-width="0.36" >12</text>
<text transform="translate(17.4,361) rotate(-90)" font-size="10.1" font-weight="bold" text-anchor="middle" stroke="#000" stroke-width="0.3" font-family="Liberation Sans, sans-serif">Endoscopic score</text>
<line x1="35" y1="428.6" x2="247.5" y2="428.6" stroke="#000" stroke-width="1.6"/>
<rect x="52" y="423.55" width="21" height="5.05" fill="#000"/>
<line x1="62.50" y1="417.38" x2="62.50" y2="423.55" stroke="#333" stroke-width="0.9"/>
<line x1="61.60" y1="417.38" x2="63.40" y2="417.38" stroke="#333" stroke-width="1"/>
<rect x="104.5" y="425.01" width="21.0" height="3.59" fill="#000"/>
<line x1="115.00" y1="419.40" x2="115.00" y2="425.01" stroke="#333" stroke-width="0.9"/>
<line x1="114.10" y1="419.40" x2="115.90" y2="419.40" stroke="#333" stroke-width="1"/>
<rect x="156.6" y="332.11" width="21.30000000000001" height="96.49" fill="#000"/>
<line x1="167.25" y1="311.91" x2="167.25" y2="332.11" stroke="#333" stroke-width="0.9"/>
<line x1="166.35" y1="311.91" x2="168.15" y2="311.91" stroke="#333" stroke-width="1"/>
<rect x="209.8" y="381.48" width="21.19999999999999" height="47.12" fill="#000"/>
<line x1="220.40" y1="365.77" x2="220.40" y2="381.48" stroke="#333" stroke-width="0.9"/>
<line x1="219.50" y1="365.77" x2="221.30" y2="365.77" stroke="#333" stroke-width="1"/>
<line x1="159.4" y1="302.2" x2="220.4" y2="302.2" stroke="#000" stroke-width="1.1"/>
<text x="186.20" y="304.00" font-size="22" font-family="Liberation Sans, sans-serif" fill="#000" font-weight="bold" >**</text>
<text x="66.20" y="445.00" font-size="8.6" font-family="Liberation Sans, sans-serif" fill="#000" font-weight="bold" text-anchor="middle" stroke="#000" stroke-width="0.36" textLength="9.0" lengthAdjust="spacingAndGlyphs" >wt</text>
<text x="103.90" y="445.00" font-size="8.6" font-family="Liberation Sans, sans-serif" font-weight="bold" font-style="italic" fill="#000" stroke="#000" stroke-width="0.36"><tspan textLength="20.8" lengthAdjust="spacingAndGlyphs">Gpr43</tspan><tspan dx="0.2" dy="-3.44" font-size="4.82" stroke-width="0.25">-/-</tspan></text>
<text x="166.30" y="445.00" font-size="8.6" font-family="Liberation Sans, sans-serif" fill="#000" font-weight="bold" text-anchor="middle" stroke="#000" stroke-width="0.36" textLength="9.0" lengthAdjust="spacingAndGlyphs" >wt</text>
<text x="205.20" y="445.00" font-size="8.6" font-family="Liberation Sans, sans-serif" font-weight="bold" font-style="italic" fill="#000" stroke="#000" stroke-width="0.36"><tspan textLength="20.8" lengthAdjust="spacingAndGlyphs">Gpr43</tspan><tspan dx="0.2" dy="-3.44" font-size="4.82" stroke-width="0.25">-/-</tspan></text>
<line x1="158" y1="450.3" x2="229.6" y2="450.3" stroke="#000" stroke-width="1.1"/>
<text x="198.70" y="460.60" font-size="8.4" font-family="Liberation Sans, sans-serif" fill="#000" font-weight="bold" text-anchor="middle" stroke="#000" stroke-width="0.25" textLength="37.6" lengthAdjust="spacingAndGlyphs" >+ 2% DSS</text>
<text x="269.60" y="297.60" font-size="26" font-family="Liberation Sans, sans-serif" fill="#000" stroke="#000" stroke-width="0.7" >D</text>
<line x1="306.3" y1="302.8" x2="306.3" y2="429.1" stroke="#000" stroke-width="1.4"/>
<text x="303.30" y="431.00" font-size="7.9" font-family="Liberation Sans, sans-serif" fill="#000" font-weight="bold" text-anchor="end" stroke="#000" stroke-width="0.36" >4</text>
<text x="303.30" y="391.00" font-size="7.9" font-family="Liberation Sans, sans-serif" fill="#000" font-weight="bold" text-anchor="end" stroke="#000" stroke-width="0.36" >6</text>
<text x="303.30" y="351.00" font-size="7.9" font-family="Liberation Sans, sans-serif" fill="#000" font-weight="bold" text-anchor="end" stroke="#000" stroke-width="0.36" >8</text>
<text x="303.30" y="311.00" font-size="7.9" font-family="Liberation Sans, sans-serif" fill="#000" font-weight="bold" text-anchor="end" stroke="#000" stroke-width="0.36" >10</text>
<text transform="translate(284.2,362.7) rotate(-90)" font-size="9.2" font-weight="bold" text-anchor="middle" stroke="#000" stroke-width="0.3" textLength="90" lengthAdjust="spacingAndGlyphs" font-family="Liberation Sans, sans-serif">Colon length (cm)</text>
<line x1="305.6" y1="429.2" x2="520" y2="429.2" stroke="#000" stroke-width="1.6"/>
<path d="M351.75,319.00 L353.90,316.85 L356.05,319.00 L353.90,321.15 Z" fill="#000"/>
<path d="M351.75,326.80 L353.90,324.65 L356.05,326.80 L353.90,328.95 Z" fill="#000"/>
<path d="M351.75,329.40 L353.90,327.25 L356.05,329.40 L353.90,331.55 Z" fill="#000"/>
<path d="M351.75,337.20 L353.90,335.05 L356.05,337.20 L353.90,339.35 Z" fill="#000"/>
<path d="M351.75,338.90 L353.90,336.75 L356.05,338.90 L353.90,341.05 Z" fill="#000"/>
<path d="M351.75,347.10 L353.90,344.95 L356.05,347.10 L353.90,349.25 Z" fill="#000"/>
<path d="M351.75,359.30 L353.90,357.15 L356.05,359.30 L353.90,361.45 Z" fill="#000"/>
<line x1="346.4" y1="339" x2="361.5" y2="339" stroke="#000" stroke-width="1"/>
<rect x="399.20" y="317.00" width="3.4" height="3.4" fill="#000"/>
<rect x="399.20" y="326.80" width="3.4" height="3.4" fill="#000"/>
<rect x="399.20" y="329.80" width="3.4" height="3.4" fill="#000"/>
<rect x="399.20" y="332.80" width="3.4" height="3.4" fill="#000"/>
<rect x="399.20" y="335.80" width="3.4" height="3.4" fill="#000"/>
<rect x="399.20" y="342.80" width="3.4" height="3.4" fill="#000"/>
<rect x="399.20" y="345.80" width="3.4" height="3.4" fill="#000"/>
<rect x="399.20" y="347.60" width="3.4" height="3.4" fill="#000"/>
<rect x="399.20" y="357.60" width="3.4" height="3.4" fill="#000"/>
<rect x="399.20" y="367.50" width="3.4" height="3.4" fill="#000"/>
<line x1="393.7" y1="337.3" x2="408.7" y2="337.3" stroke="#000" stroke-width="1"/>
<path d="M446.20,380.20 L448.3,376.40 L450.40,380.20 Z" fill="#000"/>
<path d="M446.20,384.10 L448.3,380.30 L450.40,384.10 Z" fill="#000"/>
<path d="M446.20,388.10 L448.3,384.30 L450.40,388.10 Z" fill="#000"/>
<path d="M446.20,392.60 L448.3,388.80 L450.40,392.60 Z" fill="#000"/>
<path d="M446.20,397.10 L448.3,393.30 L450.40,397.10 Z" fill="#000"/>
<path d="M446.20,404.10 L448.3,400.30 L450.40,404.10 Z" fill="#000"/>
<path d="M446.20,408.10 L448.3,404.30 L450.40,408.10 Z" fill="#000"/>
<line x1="441" y1="392.5" x2="455.8" y2="392.5" stroke="#000" stroke-width="1"/>
<circle cx="495.5" cy="349" r="1.9" fill="#000"/>
<circle cx="495.5" cy="357.2" r="1.9" fill="#000"/>
<circle cx="495.5" cy="359.8" r="1.9" fill="#000"/>
<circle cx="495.5" cy="362" r="1.9" fill="#000"/>
<circle cx="495.5" cy="369" r="1.9" fill="#000"/>
<circle cx="495.5" cy="373.5" r="1.9" fill="#000"/>
<circle cx="495.5" cy="378.4" r="1.9" fill="#000"/>
<circle cx="495.5" cy="387.1" r="1.9" fill="#000"/>
<line x1="488.8" y1="364.5" x2="502.9" y2="364.5" stroke="#000" stroke-width="1"/>
<line x1="451.4" y1="332.5" x2="495.8" y2="332.5" stroke="#000" stroke-width="1.1"/>
<text x="468.40" y="334.10" font-size="22" font-family="Liberation Sans, sans-serif" fill="#000" font-weight="bold" >*</text>
<text x="349.00" y="445.20" font-size="8.6" font-family="Liberation Sans, sans-serif" fill="#000" font-weight="bold" text-anchor="middle" stroke="#000" stroke-width="0.36" textLength="9.0" lengthAdjust="spacingAndGlyphs" >wt</text>
<text x="388.70" y="445.20" font-size="8.6" font-family="Liberation Sans, sans-serif" font-weight="bold" font-style="italic" fill="#000" stroke="#000" stroke-width="0.36"><tspan textLength="21.0" lengthAdjust="spacingAndGlyphs">Gpr43</tspan><tspan dx="0.2" dy="-3.44" font-size="4.82" stroke-width="0.25">-/-</tspan></text>
<text x="450.60" y="445.60" font-size="8.6" font-family="Liberation Sans, sans-serif" fill="#000" font-weight="bold" text-anchor="middle" stroke="#000" stroke-width="0.36" textLength="9.0" lengthAdjust="spacingAndGlyphs" >wt</text>
<text x="490.20" y="445.60" font-size="8.6" font-family="Liberation Sans, sans-serif" font-weight="bold" font-style="italic" fill="#000" stroke="#000" stroke-width="0.36"><tspan textLength="21.0" lengthAdjust="spacingAndGlyphs">Gpr43</tspan><tspan dx="0.2" dy="-3.44" font-size="4.82" stroke-width="0.25">-/-</tspan></text>
<line x1="442" y1="450.5" x2="515" y2="450.5" stroke="#000" stroke-width="1.1"/>
<text x="484.60" y="460.60" font-size="8.4" font-family="Liberation Sans, sans-serif" fill="#000" font-weight="bold" text-anchor="middle" stroke="#000" stroke-width="0.25" textLength="39.0" lengthAdjust="spacingAndGlyphs" >+ 2% DSS</text>
<text x="419.40" y="127.60" font-size="9.6" font-family="Liberation Sans, sans-serif" font-weight="bold" font-style="italic" fill="#fff" stroke="#fff" stroke-width="0.3"><tspan textLength="26.4" lengthAdjust="spacingAndGlyphs">Gpr43</tspan><tspan dx="0.2" dy="-3.84" font-size="5.38" stroke-width="0.25">-/-</tspan></text>
</svg>
</body></html>
